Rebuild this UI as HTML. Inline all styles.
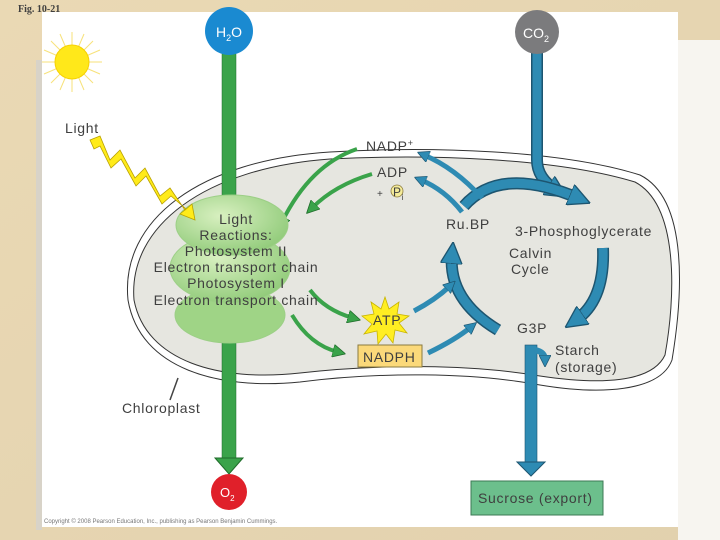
<!DOCTYPE html>
<html><head><meta charset="utf-8"><style>
html,body{margin:0;padding:0;width:720px;height:540px;overflow:hidden;background:#e8d9b8}
svg{display:block}
text{font-family:"Liberation Sans",sans-serif;fill:#3f3f3f}
</style></head><body>
<svg width="720" height="540" viewBox="0 0 720 540">
<defs>
<linearGradient id="bg" x1="0" y1="0" x2="1" y2="1"><stop offset="0" stop-color="#ead9b4"/><stop offset="1" stop-color="#e2d1ae"/></linearGradient>
<radialGradient id="prot" cx="0.4" cy="0.35" r="0.7"><stop offset="0" stop-color="#d8f0c0"/><stop offset="1" stop-color="#8fca78"/></radialGradient>
<marker id="ga" viewBox="0 0 10 10" refX="4" refY="5" markerUnits="userSpaceOnUse" markerWidth="13" markerHeight="13" orient="auto"><path d="M0,0 L10,5 L0,10 z" fill="#3aa34a" stroke="#1f6b2a" stroke-width="0.6"/></marker>
<marker id="ba" viewBox="0 0 10 10" refX="4" refY="5" markerUnits="userSpaceOnUse" markerWidth="22" markerHeight="22" orient="auto"><path d="M0,0 L10,5 L0,10 z" fill="#2e8bb3" stroke="#1d5570" stroke-width="0.6"/></marker>
<marker id="bb" viewBox="0 0 10 10" refX="4" refY="5" markerUnits="userSpaceOnUse" markerWidth="12" markerHeight="12" orient="auto"><path d="M0,0 L10,5 L0,10 z" fill="#2e8bb3" stroke="#1d5570" stroke-width="0.6"/></marker>
</defs>
<rect width="720" height="540" fill="url(#bg)"/>
<rect x="678" y="40" width="42" height="500" fill="#f7f5f0"/>
<rect x="42" y="12" width="636" height="515" fill="#fff"/>
<rect x="36" y="60" width="6" height="470" fill="#d8d3c8"/>
<text x="18" y="12" font-size="10" font-weight="bold" style="font-family:'Liberation Serif',serif">Fig. 10-21</text>
<!-- sun -->
<g stroke="#f7e27a" stroke-width="1">
<line x1="72" y1="32" x2="72" y2="92"/><line x1="42" y1="62" x2="102" y2="62"/><line x1="51" y1="41" x2="93" y2="83"/><line x1="93" y1="41" x2="51" y2="83"/>
<line x1="60" y1="34" x2="84" y2="90"/><line x1="84" y1="34" x2="60" y2="90"/><line x1="44" y1="50" x2="100" y2="74"/><line x1="44" y1="74" x2="100" y2="50"/>
</g>
<circle cx="72" cy="62" r="17" fill="#ffe81a" stroke="#f6d000"/>
<!-- chloroplast -->
<path d="M128,300 C120,220 200,160 330,152 C430,146 560,150 640,175 C690,200 682,300 672,360 C660,392 600,395 540,385 C470,372 380,372 300,382 C220,390 140,370 128,300 Z" fill="#fff" stroke="#333" stroke-width="1"/>
<path d="M134,300 C128,226 205,168 330,159 C430,154 556,158 635,182 C680,206 675,300 665,355 C652,383 600,385 540,376 C470,364 380,364 300,373 C220,382 146,362 134,300 Z" fill="#e6e6e0" stroke="#333" stroke-width="1"/>
<line x1="178" y1="378" x2="170" y2="400" stroke="#444" stroke-width="1.5"/>
<!-- H2O -->
<rect x="222" y="52" width="14" height="150" fill="#3aa34a" stroke="#1f6b2a" stroke-width="0.5"/>
<path d="M215,198 L243,198 L229,212 Z" fill="#3aa34a" stroke="#1f6b2a"/>
<rect x="222" y="330" width="14" height="130" fill="#3aa34a" stroke="#1f6b2a" stroke-width="0.5"/>
<path d="M215,458 L243,458 L229,474 Z" fill="#3aa34a" stroke="#1f6b2a"/>
<circle cx="229" cy="31" r="24" fill="#1a8ad1"/>
<text x="216" y="37" font-size="14" style="fill:#fff">H<tspan font-size="9" dy="4">2</tspan><tspan dy="-4">O</tspan></text>
<circle cx="229" cy="492" r="18" fill="#e0202a"/>
<text x="220" y="497" font-size="13" style="fill:#fff">O<tspan font-size="8" dy="4">2</tspan></text>
<!-- CO2 -->
<path d="M537,50 L537,160 Q537,178 556,190" fill="none" stroke="#1d5570" stroke-width="12"/>
<path d="M537,50 L537,160 Q537,178 556,190" fill="none" stroke="#2e8bb3" stroke-width="9" marker-end="url(#ba)"/>
<circle cx="537" cy="32" r="22" fill="#7b7b7d"/>
<text x="523" y="38" font-size="14" style="fill:#fff">CO<tspan font-size="9" dy="4">2</tspan></text>
<!-- Calvin cycle arcs -->
<g fill="none">
<path d="M464,206 Q500,165 578,198" stroke="#1d5570" stroke-width="12"/>
<path d="M464,206 Q500,165 578,198" stroke="#2e8bb3" stroke-width="9" marker-end="url(#ba)"/>
<path d="M603,248 Q605,300 576,320" stroke="#1d5570" stroke-width="12"/>
<path d="M603,248 Q605,300 576,320" stroke="#2e8bb3" stroke-width="9" marker-end="url(#ba)"/>
<path d="M498,330 Q448,300 452,255" stroke="#1d5570" stroke-width="12"/>
<path d="M498,330 Q448,300 452,255" stroke="#2e8bb3" stroke-width="9" marker-end="url(#ba)"/>
<path d="M482,198 Q455,168 424,155" stroke="#2e8bb3" stroke-width="5" marker-end="url(#bb)"/>
<path d="M462,212 Q445,190 421,180" stroke="#2e8bb3" stroke-width="5" marker-end="url(#bb)"/>
<path d="M414,311 Q435,300 450,286" stroke="#2e8bb3" stroke-width="5" marker-end="url(#bb)"/>
<path d="M428,353 Q455,340 471,327" stroke="#2e8bb3" stroke-width="5" marker-end="url(#bb)"/>
<path d="M357,149 Q310,165 282,222" stroke="#3aa34a" stroke-width="4" marker-end="url(#ga)"/>
<path d="M372,174 Q335,185 312,208" stroke="#3aa34a" stroke-width="4" marker-end="url(#ga)"/>
<path d="M310,290 Q325,310 353,318" stroke="#3aa34a" stroke-width="4" marker-end="url(#ga)"/>
<path d="M292,315 Q310,345 338,352" stroke="#3aa34a" stroke-width="4" marker-end="url(#ga)"/>
</g>
<!-- G3P down -->
<rect x="525" y="345" width="12" height="118" fill="#2e8bb3" stroke="#1d5570" stroke-width="0.6"/>
<path d="M517,462 L545,462 L531,476 Z" fill="#2e8bb3" stroke="#1d5570"/>
<path d="M535,350 Q545,352 545,360" fill="none" stroke="#2e8bb3" stroke-width="6" marker-end="url(#bb)"/>
<!-- protein -->
<g stroke="#9ccf86" stroke-width="1">
<ellipse cx="230" cy="315" rx="55" ry="28" fill="#9fd486"/>
<ellipse cx="230" cy="268" rx="60" ry="35" fill="url(#prot)"/>
<ellipse cx="232" cy="225" rx="56" ry="30" fill="url(#prot)"/>
</g>
<!-- lightning -->
<path d="M90,140 L100,136 L110,160 L120,150 L135,178 L145,168 L160,196 L170,188 L185,210 L192,204 L195,220 L180,214 L186,209 L171,196 L162,204 L146,176 L136,186 L121,159 L111,168 L100,146 L94,149 Z" fill="#ffeb1a" stroke="#b8a000" stroke-width="0.8"/>
<!-- ATP star -->
<path d="M385,297 L389,309 L399,302 L397,314 L409,316 L399,323 L407,333 L395,330 L393,343 L386,334 L378,344 L377,331 L364,334 L372,324 L362,316 L374,314 L371,302 L381,309 Z" fill="#ffee22" stroke="#c8b400" stroke-width="0.8"/>
<rect x="358" y="345" width="64" height="22" fill="#fbd97a" stroke="#8a7a40"/>
<rect x="471" y="481" width="132" height="34" fill="#6cbf8c" stroke="#3d7a55"/>
<!-- labels -->
<g font-size="14" letter-spacing="0.7">
<text x="65" y="133">Light</text>
<text x="366" y="151">NADP<tspan font-size="9" dy="-5">+</tspan></text>
<text x="377" y="177">ADP</text>
<text x="377" y="197" font-size="10">+</text>
<circle cx="397" cy="191" r="6" fill="#f5ec9a" stroke="#8a7a40" stroke-width="0.8"/>
<text x="393" y="196" font-size="12">P<tspan font-size="8" dy="4">i</tspan></text>
<g text-anchor="middle">
<text x="236" y="224">Light</text>
<text x="236" y="240">Reactions:</text>
<text x="236" y="256">Photosystem II</text>
<text x="236" y="272">Electron transport chain</text>
<text x="236" y="288">Photosystem I</text>
<text x="236" y="305">Electron transport chain</text>
</g>
<text x="446" y="229">Ru.BP</text>
<text x="515" y="236">3-Phosphoglycerate</text>
<text x="509" y="258">Calvin</text>
<text x="511" y="274">Cycle</text>
<text x="373" y="325">ATP</text>
<text x="363" y="362">NADPH</text>
<text x="517" y="333">G3P</text>
<text x="555" y="355">Starch</text>
<text x="555" y="372">(storage)</text>
<text x="122" y="413">Chloroplast</text>
<text x="478" y="503">Sucrose (export)</text>
</g>
<text x="44" y="523" font-size="6" style="fill:#777">Copyright © 2008 Pearson Education, Inc., publishing as Pearson Benjamin Cummings.</text>
</svg>
</body></html>
